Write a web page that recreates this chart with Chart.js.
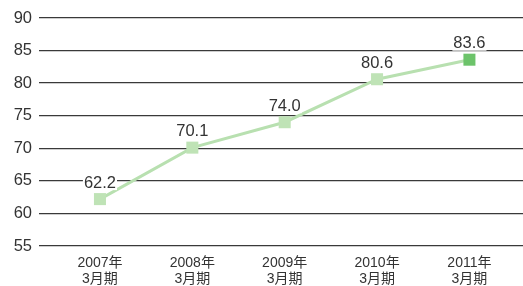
<!DOCTYPE html>
<html>
<head>
<meta charset="utf-8">
<script src="https://cdn.jsdelivr.net/npm/chart.js@4.4.0/dist/chart.umd.min.js"></script>
<style>
  html, body { margin: 0; padding: 0; background: #fff; }
  #wrap { width: 523px; height: 286px; }
</style>
</head>
<body>
<div id="wrap"><canvas id="c" width="523" height="286"></canvas></div>
<script>
const years = ['2007年', '2008年', '2009年', '2010年', '2011年'];
const periods = ['3月期', '3月期', '3月期', '3月期', '3月期'];
const values = [62.2, 70.1, 74.0, 80.6, 83.6];
const yTicks = [55, 60, 65, 70, 75, 80, 85, 90];

const FONT = '"Liberation Sans", "Noto Sans CJK JP", Arial, sans-serif';

// value labels with a white box behind, like the original
const valueLabels = {
  id: 'valueLabels',
  afterDatasetsDraw(chart) {
    const ctx = chart.ctx;
    const meta = chart.getDatasetMeta(0);
    ctx.save();
    ctx.font = '16.5px ' + FONT;
    ctx.textAlign = 'center';
    ctx.textBaseline = 'middle';
    meta.data.forEach((pt, i) => {
      const txt = values[i].toFixed(1);
      const w = ctx.measureText(txt).width;
      const y = pt.y - 16;
      ctx.fillStyle = '#fff';
      ctx.fillRect(pt.x - w / 2 - 1, y - 7, w + 2, 14);
      ctx.fillStyle = '#333';
      ctx.fillText(txt, pt.x, y);
    });
    ctx.restore();
  }
};

new Chart(document.getElementById('c'), {
  type: 'line',
  data: {
    datasets: [{
      data: values.map((v, i) => ({ x: i, y: v })),
      borderColor: '#b8e0b0',
      borderWidth: 3,
      pointStyle: 'rect',
      pointRadius: 8.5,
      pointHoverRadius: 8.5,
      pointBackgroundColor: values.map((v, i) => i === values.length - 1 ? '#6cc36a' : '#bfe3b6'),
      pointBorderWidth: 0,
      tension: 0
    }]
  },
  options: {
    responsive: false,
    animation: false,
    events: [],
    layout: { autoPadding: false, padding: { top: 18, right: 0, left: 0, bottom: 0 } },
    plugins: { legend: { display: false }, tooltip: { enabled: false } },
    scales: {
      x: {
        type: 'linear',
        min: -0.66,
        max: 4.58,
        afterBuildTicks: axis => { axis.ticks = years.map((y, i) => ({ value: i })); },
        afterFit: scale => { scale.height = 40; scale.paddingLeft = 0; scale.paddingRight = 0; },
        grid: { display: false, drawTicks: false },
        border: { display: false },
        ticks: {
          autoSkip: false,
          maxRotation: 0,
          padding: 9,
          color: '#333',
          font: { family: FONT, size: 14, lineHeight: 1.15 },
          callback: v => [years[v], periods[v]]
        }
      },
      y: {
        min: 55,
        max: 90,
        afterBuildTicks: axis => { axis.ticks = yTicks.map(v => ({ value: v })); },
        afterFit: scale => { scale.width = 39; scale.paddingTop = 0; scale.paddingBottom = 0; },
        grid: { color: '#3a3a3a', lineWidth: 1.3, drawTicks: false },
        border: { display: false },
        ticks: {
          padding: 7,
          color: '#333',
          font: { family: FONT, size: 16.5 }
        }
      }
    }
  },
  plugins: [valueLabels]
});
</script>
</body>
</html>
